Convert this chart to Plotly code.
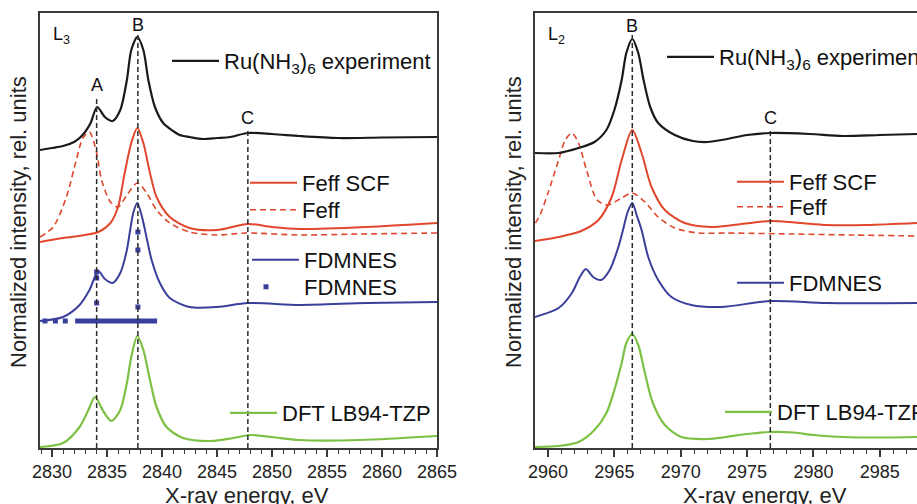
import plotly.graph_objects as go

FONT = "Liberation Sans, Arial, sans-serif"
C_BLACK = "#1a1a1a"
C_RED = "#e0472d"
C_BLUE = "#3a3f9c"
C_GREEN = "#7dc144"
C_AXIS = "#3a3a3a"

# ---------------- L3 edge (left panel) ----------------
l3_exp_x = [2828.9, 2830, 2831, 2832, 2832.5, 2833, 2833.5, 2834.1, 2834.8, 2835.5, 2836.2, 2836.8, 2837.2,
            2837.75, 2838.3, 2838.75, 2839.35, 2840.1, 2841, 2841.6, 2842.5, 2843.7, 2845, 2846.2, 2847.8,
            2850, 2852.5, 2856, 2860, 2865]
l3_exp_y = [2.98, 3.00, 3.02, 3.06, 3.10, 3.16, 3.25, 3.41, 3.31, 3.27, 3.38, 3.68, 3.98,
            4.11, 3.98, 3.68, 3.41, 3.25, 3.17, 3.13, 3.11, 3.09, 3.10, 3.11, 3.15,
            3.14, 3.12, 3.10, 3.105, 3.11]

l3_scf_x = [2828.9, 2831, 2833, 2834.2, 2835.3, 2836.0, 2836.6, 2837.2, 2837.75, 2838.3, 2838.9, 2839.5,
            2840.7, 2842.5, 2845, 2847.8, 2850, 2852.5, 2858.6, 2865]
l3_scf_y = [2.06, 2.10, 2.13, 2.16, 2.25, 2.41, 2.75, 3.05, 3.20, 3.05, 2.75, 2.51,
            2.31, 2.20, 2.18, 2.24, 2.21, 2.19, 2.21, 2.25]

l3_feff_x = [2828.9, 2830.1, 2831.3, 2832.2, 2832.8, 2833.4, 2834.05, 2834.5, 2835.3, 2836.0, 2836.8,
             2837.75, 2838.6, 2839.5, 2840.7, 2842.5, 2845, 2847.6, 2852.5, 2858, 2865]
l3_feff_y = [2.11, 2.21, 2.51, 2.88, 3.10, 3.16, 2.95, 2.68, 2.46, 2.41, 2.53,
             2.65, 2.55, 2.38, 2.25, 2.16, 2.13, 2.15, 2.13, 2.14, 2.15]

l3_fdm_x = [2828.9, 2831, 2832.5, 2833.4, 2834.2, 2834.8, 2835.5, 2836.2, 2836.8, 2837.1, 2837.4,
            2837.75, 2838.2, 2838.6, 2839.05, 2839.8, 2840.7, 2842.5, 2845, 2847.8, 2852.5, 2858.6, 2865]
l3_fdm_y = [1.27, 1.31, 1.43, 1.58, 1.77, 1.69, 1.65, 1.75, 1.98, 2.18, 2.36,
            2.45, 2.30, 2.10, 1.88, 1.65, 1.50, 1.41, 1.41, 1.45, 1.43, 1.45, 1.46]

l3_fdm_dot_x = [2829.35, 2830.3, 2831.2, 2834.05, 2834.05, 2834.05, 2837.8, 2837.8, 2837.8]
l3_fdm_dot_y = [1.27, 1.27, 1.27, 1.76, 1.70, 1.45, 2.16, 1.98, 1.41]
l3_fdm_bar_x = [2832.1, 2839.55]
l3_fdm_bar_y = [1.27, 1.27]

l3_dft_x = [2828.9, 2831, 2832.5, 2833.3, 2833.9, 2834.7, 2835.4, 2836.2, 2836.8, 2837.2, 2837.75, 2838.3,
            2838.9, 2839.5, 2840.4, 2841.9, 2844.4, 2846.5, 2848, 2850, 2852.5, 2858, 2865]
l3_dft_y = [0.01, 0.05, 0.21, 0.38, 0.51, 0.36, 0.27, 0.38, 0.65, 0.91, 1.12, 0.98,
            0.68, 0.41, 0.21, 0.10, 0.07, 0.10, 0.13, 0.11, 0.08, 0.08, 0.12]

l3_mark_x = [2834.05, 2837.8, 2847.8]
l3_mark_top = [3.51, 4.14, 3.18]
l3_mark_lbl = ["A", "B", "C"]
l3_mark_lbl_y = [3.63, 4.23, 3.30]

# ---------------- L2 edge (right panel) ----------------
l2_exp_x = [2959.0, 2960.8, 2962.3, 2963.5, 2964.4, 2965.0, 2965.55, 2965.9, 2966.35, 2966.8, 2967.2,
            2967.7, 2968.3, 2969.55, 2970.9, 2972.0, 2973.5, 2975.0, 2976.75, 2979.7, 2982.2, 2985, 2987.8]
l2_exp_y = [2.95, 2.95, 3.00, 3.06, 3.18, 3.38, 3.68, 3.95, 4.09, 3.95, 3.68,
            3.41, 3.25, 3.13, 3.07, 3.06, 3.09, 3.13, 3.15, 3.14, 3.12, 3.13, 3.14]

l2_scf_x = [2959.0, 2960.8, 2962.5, 2963.8, 2964.8, 2965.55, 2966.35, 2967.05, 2967.8, 2968.8, 2970.3,
            2972.3, 2974.0, 2976.75, 2979.0, 2981.0, 2984.0, 2987.8]
l2_scf_y = [2.07, 2.11, 2.17, 2.28, 2.51, 2.88, 3.18, 2.95, 2.61, 2.38, 2.25,
            2.21, 2.23, 2.27, 2.25, 2.23, 2.23, 2.25]

l2_feff_x = [2959.05, 2959.4, 2960.0, 2960.8, 2961.3, 2961.8, 2962.3, 2962.9, 2963.7, 2964.5, 2965.55,
             2966.35, 2967.3, 2968.3, 2969.55, 2971.3, 2973.4, 2978.4, 2983.0, 2987.8]
l2_feff_y = [2.25, 2.33, 2.55, 2.88, 3.08, 3.15, 3.05, 2.78, 2.48, 2.43, 2.50,
             2.55, 2.46, 2.31, 2.20, 2.15, 2.15, 2.14, 2.13, 2.12]

l2_fdm_x = [2959.0, 2960.8, 2961.8, 2962.4, 2962.85, 2963.4, 2964.0, 2964.65, 2965.3, 2965.65, 2966.0,
            2966.35, 2966.7, 2967.05, 2967.55, 2968.3, 2969.3, 2970.8, 2973.05, 2976.75, 2981.0, 2987.8]
l2_fdm_y = [1.31, 1.40, 1.55, 1.71, 1.79, 1.71, 1.68, 1.78, 2.01, 2.18, 2.36,
            2.45, 2.32, 2.18, 1.91, 1.68, 1.51, 1.43, 1.41, 1.47, 1.45, 1.45]

l2_dft_x = [2959.0, 2960.8, 2962.3, 2963.5, 2964.4, 2965.0, 2965.55, 2965.9, 2966.35, 2966.8, 2967.3,
            2967.9, 2968.8, 2970.05, 2972.05, 2973.4, 2975.0, 2976.7, 2978.5, 2980.0, 2982.2, 2985.0, 2987.8]
l2_dft_y = [0.01, 0.02, 0.06, 0.18, 0.35, 0.58, 0.85, 1.05, 1.14, 1.03, 0.75,
            0.45, 0.23, 0.11, 0.09, 0.11, 0.14, 0.16, 0.155, 0.13, 0.11, 0.105, 0.11]

l2_mark_x = [2966.35, 2976.75]
l2_mark_top = [4.14, 3.18]
l2_mark_lbl = ["B", "C"]
l2_mark_lbl_y = [4.22, 3.30]

x_ticks_l3 = [2830, 2835, 2840, 2845, 2850, 2855, 2860, 2865]
x_ticks_l2 = [2960, 2965, 2970, 2975, 2980, 2985]

exp_name = "Ru(NH<sub>3</sub>)<sub>6</sub> experiment"

fig = go.Figure()


def curve(x, y, color, name, legend, xa, ya, dash=None, width=2.0):
    fig.add_trace(go.Scatter(
        x=x, y=y, mode="lines", name=name, legend=legend, xaxis=xa, yaxis=ya,
        line=dict(color=color, width=width, dash=dash, shape="spline", smoothing=0.8),
    ))


# left panel curves
curve(l3_dft_x, l3_dft_y, C_GREEN, "DFT LB94-TZP", "legend6", "x", "y", width=2.2)
fig.add_trace(go.Scatter(x=l3_fdm_bar_x, y=l3_fdm_bar_y, mode="lines", showlegend=False,
                         xaxis="x", yaxis="y", line=dict(color=C_BLUE, width=5)))
fig.add_trace(go.Scatter(x=l3_fdm_dot_x, y=l3_fdm_dot_y, mode="markers", name="FDMNES", legend="legend5",
                         xaxis="x", yaxis="y",
                         marker=dict(symbol="square", size=5, color=C_BLUE, line=dict(width=0))))
curve(l3_fdm_x, l3_fdm_y, C_BLUE, "FDMNES", "legend4", "x", "y")
curve(l3_feff_x, l3_feff_y, C_RED, "Feff", "legend3", "x", "y", dash="6px,4px", width=1.6)
curve(l3_scf_x, l3_scf_y, C_RED, "Feff SCF", "legend2", "x", "y")
curve(l3_exp_x, l3_exp_y, C_BLACK, exp_name, "legend", "x", "y", width=2.2)

# right panel curves
curve(l2_dft_x, l2_dft_y, C_GREEN, "DFT LB94-TZP", "legend11", "x2", "y2", width=2.2)
curve(l2_fdm_x, l2_fdm_y, C_BLUE, "FDMNES", "legend10", "x2", "y2")
curve(l2_feff_x, l2_feff_y, C_RED, "Feff", "legend9", "x2", "y2", dash="6px,4px", width=1.6)
curve(l2_scf_x, l2_scf_y, C_RED, "Feff SCF", "legend8", "x2", "y2")
curve(l2_exp_x, l2_exp_y, C_BLACK, exp_name, "legend7", "x2", "y2", width=2.2)

# vertical marker lines
for mx, mt in zip(l3_mark_x, l3_mark_top):
    fig.add_trace(go.Scatter(x=[mx, mx], y=[0, mt], mode="lines", showlegend=False, xaxis="x", yaxis="y",
                             line=dict(color="#2a2a2a", width=1.5, dash="5px,3px")))
for mx, mt in zip(l2_mark_x, l2_mark_top):
    fig.add_trace(go.Scatter(x=[mx, mx], y=[0, mt], mode="lines", showlegend=False, xaxis="x2", yaxis="y2",
                             line=dict(color="#2a2a2a", width=1.5, dash="5px,3px")))

annotations = []
for mx, ly, t in zip(l3_mark_x, l3_mark_lbl_y, l3_mark_lbl):
    annotations.append(dict(x=mx, y=ly, xref="x", yref="y", text=t, showarrow=False,
                            font=dict(size=18, color="#111")))
for mx, ly, t in zip(l2_mark_x, l2_mark_lbl_y, l2_mark_lbl):
    annotations.append(dict(x=mx, y=ly, xref="x2", yref="y2", text=t, showarrow=False,
                            font=dict(size=18, color="#111")))
annotations.append(dict(x=2830.9, y=4.13, xref="x", yref="y", text="L<sub>3</sub>", showarrow=False,
                        font=dict(size=18, color="#111")))
annotations.append(dict(x=2960.65, y=4.13, xref="x2", yref="y2", text="L<sub>2</sub>", showarrow=False,
                        font=dict(size=18, color="#111")))

W, H = 917, 504
# axis titles
for xc in [247 / W, 765 / W]:
    annotations.append(dict(x=xc, y=1 - 495 / H, xref="paper", yref="paper", text="X-ray energy, eV",
                            showarrow=False, xanchor="center", yanchor="middle",
                            font=dict(size=22, color="#222")))
for xc in [18 / W, 513 / W]:
    annotations.append(dict(x=xc, y=1 - 222 / H, xref="paper", yref="paper",
                            text="Normalized intensity, rel. units", textangle=-90,
                            showarrow=False, xanchor="center", yanchor="middle",
                            font=dict(size=22, color="#222")))


def leg(text_px, center_py, itemwidth=47):
    return dict(x=(text_px - itemwidth - 11) / W, y=1 - center_py / H, xanchor="left", yanchor="middle",
                itemwidth=itemwidth,
                bgcolor="rgba(0,0,0,0)", borderwidth=0, font=dict(size=22, color="#111", family=FONT))


legend_pos = {
    "legend": (225, 61, 47), "legend2": (303, 183, 47), "legend3": (303, 210, 47), "legend4": (305, 260, 47),
    "legend5": (305, 287, 66), "legend6": (283, 413, 47),
    "legend7": (720, 57, 47), "legend8": (790, 182, 47), "legend9": (790, 207, 47), "legend10": (790, 283, 47),
    "legend11": (778, 412, 47),
}

xaxis_common = dict(showgrid=False, zeroline=False, showline=True, linecolor=C_AXIS, linewidth=1.5,
                    mirror=True, ticks="outside", ticklen=7, tickwidth=1.5, tickcolor=C_AXIS,
                    tickfont=dict(size=18, color="#222", family=FONT),
                    minor=dict(dtick=1, ticks="outside", ticklen=4, tickwidth=1.2, tickcolor=C_AXIS))
yaxis_common = dict(showgrid=False, zeroline=False, showline=True, linecolor=C_AXIS, linewidth=1.5,
                    showticklabels=False, ticks="", range=[0, 4.35])

layout = dict(
    width=W, height=H,
    margin=dict(l=0, r=0, t=0, b=0, autoexpand=False),
    paper_bgcolor="white", plot_bgcolor="white",
    font=dict(family=FONT, color="#111"),
    xaxis=dict(domain=[40 / W, 437 / W], range=[2828.9, 2865], tickvals=x_ticks_l3, **xaxis_common),
    yaxis=dict(domain=[1 - 448 / H, 1 - 13 / H], mirror=True, **yaxis_common),
    xaxis2=dict(domain=[535 / W, 1.0], range=[2959.02, 2987.8], tickvals=x_ticks_l2, anchor="y2",
                **xaxis_common),
    yaxis2=dict(domain=[1 - 448 / H, 1 - 13 / H], anchor="x2", mirror=False, **yaxis_common),
    annotations=annotations,
)
for k, (tx, cy, iw) in legend_pos.items():
    layout[k] = leg(tx, cy, iw)

fig.update_layout(**layout)
fig.write_html("out.html", config={"displayModeBar": False},
               post_script="document.body.style.margin='0';document.body.style.overflow='hidden';")
